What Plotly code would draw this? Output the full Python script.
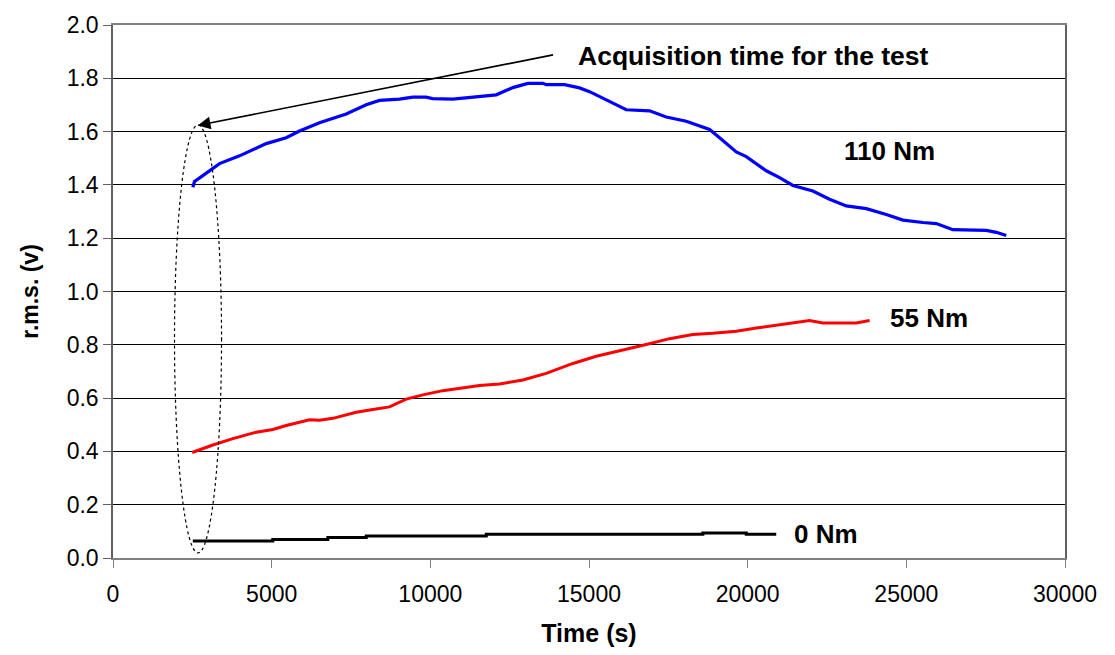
import plotly.graph_objects as go

# ---- data ----
t_110 = [2515, 2569, 2830, 3357, 3987, 4828, 5458, 5878, 6508, 7349, 7979, 8399, 9029, 9449,
         9870, 10070, 10710, 11130, 11550, 12077, 12600, 13073, 13546, 13652, 14230, 14702,
         15018, 15543, 16174, 16909, 17434, 18065, 18800, 19115, 19641, 19956, 20586, 21005,
         21425, 22055, 22581, 23107, 23737, 24368, 24893, 25523, 25944, 26467, 27520, 27835, 28150]
v_110 = [1.391, 1.413, 1.435, 1.480, 1.509, 1.555, 1.577, 1.602, 1.633, 1.666, 1.701, 1.717,
         1.722, 1.729, 1.729, 1.724, 1.722, 1.727, 1.732, 1.738, 1.765, 1.781, 1.781, 1.776,
         1.776, 1.764, 1.750, 1.719, 1.682, 1.678, 1.655, 1.639, 1.608, 1.577, 1.524, 1.506,
         1.453, 1.427, 1.398, 1.377, 1.346, 1.321, 1.311, 1.289, 1.268, 1.259, 1.255, 1.232,
         1.229, 1.222, 1.210]

t_55 = [2495, 3146, 3777, 4513, 5036, 5458, 6193, 6508, 6927, 7664, 8188, 8714, 9240, 9764,
        10394, 10920, 11550, 12180, 12916, 13652, 14492, 15228, 16066, 16804, 17539, 18273,
        18903, 19641, 20271, 21005, 21636, 21951, 22370, 23422, 23842]
v_55 = [0.396, 0.424, 0.448, 0.472, 0.482, 0.497, 0.519, 0.517, 0.524, 0.547, 0.557, 0.567,
        0.596, 0.612, 0.628, 0.637, 0.647, 0.653, 0.668, 0.693, 0.730, 0.757, 0.779, 0.801,
        0.823, 0.839, 0.843, 0.851, 0.863, 0.875, 0.887, 0.891, 0.882, 0.882, 0.891]

t_0 = [2515, 5036, 6770, 7980, 11762, 18588, 19956, 20900]
v_0 = [0.064, 0.069, 0.077, 0.083, 0.089, 0.094, 0.089, 0.089]

x_ticks = [0, 5000, 10000, 15000, 20000, 25000, 30000]
y_ticks = [0.0, 0.2, 0.4, 0.6, 0.8, 1.0, 1.2, 1.4, 1.6, 1.8, 2.0]

series_labels = ["110 Nm", "55 Nm", "0 Nm"]
label_pos = [(24456, 1.527), (25717, 0.899), (22455, 0.089)]
note_text = "Acquisition time for the test"
note_pos = (20186, 1.883)
arrow_tip = (2670, 1.623)
arrow_tail = (13914, 1.889)
ellipse_box = (1938, 0.019, 3420, 1.625)

FONT = "Liberation Sans, Arial, sans-serif"

fig = go.Figure()
fig.add_trace(go.Scatter(x=t_110, y=v_110, mode="lines",
                         line=dict(color="#0000ff", width=3.2), name="110 Nm"))
fig.add_trace(go.Scatter(x=t_55, y=v_55, mode="lines",
                         line=dict(color="#ff0000", width=3), name="55 Nm"))
fig.add_trace(go.Scatter(x=t_0, y=v_0, mode="lines", line_shape="hv",
                         line=dict(color="#000000", width=3), name="0 Nm"))

for txt, (lx, ly) in zip(series_labels, label_pos):
    fig.add_annotation(x=lx, y=ly, xref="x", yref="y", text="<b>%s</b>" % txt,
                       showarrow=False, font=dict(family=FONT, size=26, color="black"))

fig.add_annotation(x=note_pos[0], y=note_pos[1], xref="x", yref="y",
                   text="<b>%s</b>" % note_text, showarrow=False,
                   font=dict(family=FONT, size=26.5, color="black"))

fig.add_annotation(x=arrow_tip[0], y=arrow_tip[1], ax=arrow_tail[0], ay=arrow_tail[1],
                   xref="x", yref="y", axref="x", ayref="y", text="",
                   showarrow=True, arrowhead=2, arrowsize=1.6, arrowwidth=1.6,
                   arrowcolor="black", standoff=0)

fig.add_shape(type="circle", xref="x", yref="y",
              x0=ellipse_box[0], y0=ellipse_box[1], x1=ellipse_box[2], y1=ellipse_box[3],
              line=dict(color="black", width=1.2, dash="dot"))

fig.update_layout(
    width=1115, height=655,
    margin=dict(l=113, r=50, t=22, b=95),
    paper_bgcolor="white", plot_bgcolor="white",
    showlegend=False,
    font=dict(family=FONT, color="black"),
    xaxis=dict(range=[0, 30000], tickvals=x_ticks, ticktext=[str(v) for v in x_ticks],
               showgrid=False, zeroline=False, showline=True, linecolor="#808080",
               linewidth=1.5, mirror=True, ticks="outside", ticklen=8, tickcolor="#808080",
               ticklabelstandoff=7,
               tickfont=dict(size=23, family=FONT, color="black"),
               title=dict(text="<b>Time (s)</b>", font=dict(size=25, family=FONT), standoff=18)),
    yaxis=dict(range=[0, 2.0], tickvals=y_ticks, tickformat=".1f",
               showgrid=True, gridcolor="#000000", gridwidth=1, zeroline=False,
               showline=True, linecolor="#606060", linewidth=1.5, mirror=True,
               ticks="outside", ticklen=8, tickcolor="#606060",
               tickfont=dict(size=23, family=FONT, color="black"),
               title=dict(text="<b>r.m.s. (v)</b>", font=dict(size=23, family=FONT), standoff=22)),
)

fig.write_html("out.html", config={"displayModeBar": False},
               post_script="document.body.style.margin='0';")
